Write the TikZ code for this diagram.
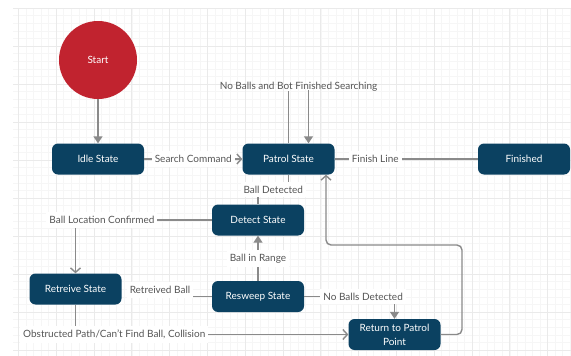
\documentclass[tikz,border=0pt]{standalone}
\usepackage{fontspec}
\setmainfont{Lato}
\usetikzlibrary{arrows.meta}
\definecolor{nodeblue}{HTML}{0B4161}
\definecolor{startred}{HTML}{C1232F}
\definecolor{conncol}{HTML}{8A8A8A}
\definecolor{lblcol}{HTML}{555555}
\definecolor{gridminor}{HTML}{F6F6F6}
\definecolor{gridmajor}{HTML}{EAEAEA}
\tikzset{
  statebox/.style={fill=nodeblue, rounded corners=6pt, minimum width=92pt, minimum height=31pt,
    text=white, font=\fontsize{10}{14}\selectfont, inner sep=0pt},
  conn/.style={draw=conncol, line width=1.4pt},
  lbl/.style={fill=white, text=lblcol, font=\fontsize{10}{11}\selectfont, inner xsep=3pt, inner ysep=4pt},
  freelbl/.style={text=lblcol, font=\fontsize{10}{11}\selectfont, inner sep=0pt},
  tri/.style={-{Triangle[length=7pt,width=9pt]}},
  barb/.style={-{Straight Barb[length=4.5pt,width=10pt]}}
}
\begin{document}
\begin{tikzpicture}[x=1pt,y=-1pt]
\useasboundingbox (0,0) rectangle (571,356);
\fill[white] (0,0) rectangle (571,356);
\begin{scope}
\clip (13,8) rectangle (571,356);
\foreach \i in {0,...,75} {\draw[gridminor, line width=0.6pt] ({10.84+7.56*\i},8) -- ({10.84+7.56*\i},356);}
\foreach \i in {0,...,47} {\draw[gridminor, line width=0.6pt] (13,{8+7.6*\i}) -- (571,{8+7.6*\i});}
\foreach \i in {0,...,15} {\draw[gridmajor, line width=0.7pt] ({18.4+37.8*\i},8) -- ({18.4+37.8*\i},356);}
\foreach \i in {0,...,9} {\draw[gridmajor, line width=0.7pt] (13,{8+38*\i}) -- (571,{8+38*\i});}
\end{scope}

\node[circle, fill=startred, minimum size=78pt, inner sep=0pt, text=white, font=\fontsize{10}{11}\selectfont] (start) at (98,60) {Start};
\node[statebox] (idle) at (98,159) {Idle State};
\node[statebox] (patrol) at (288.5,159) {Patrol State};
\node[statebox] (finished) at (524,159) {Finished};
\node[statebox] (detect) at (258,220) {Detect State};
\node[statebox] (resweep) at (258,296.5) {Resweep State};
\node[statebox] (retreive) at (75.5,289) {Retreive State};
\node[statebox, align=center] (ret) at (394.5,334.5) {Return to Patrol\\Point};

% Start -> Idle
\draw[conn, tri] (start) -- (idle);
% Idle -> Patrol
\draw[conn, barb] (idle) -- node[lbl]{Search Command} (patrol);
% self loop on Patrol
\coordinate (loopA) at (288.5,91);
\coordinate (loopB) at (308.5,90);
\draw[conn] (patrol.north) -- (loopA);
\draw[conn, tri] (loopB) -- (loopB |- patrol.north);
\node[freelbl] (looplbl) at (298.5,87) {No Balls and Bot Finished Searching};
% Patrol -> Finished
\draw[conn] (patrol) -- node[lbl, pos=0.283]{Finish Line} (finished);
% Patrol -> Detect
\draw[conn] (patrol.south) -- ++(0,15) -| node[lbl, pos=0.25]{Ball Detected} (detect.north);
% Detect -> Retreive
\draw[conn, barb] (detect.west) -| node[lbl, pos=0.403]{Ball Location Confirmed} (retreive.north);
% Resweep -> Detect
\draw[conn, tri] (resweep.north) -- node[lbl]{Ball in Range} (detect.south);
% Resweep -> Retreive
\coordinate (rbend) at (160,296.5);
\draw[conn] (resweep.west) -- (rbend);
\node[lbl] (rblbl) at (160,290) {Retreived Ball};
% Retreive -> Return
\draw[conn, barb] (retreive.south) |- node[lbl, pos=0.571]{Obstructed Path/Can't Find Ball, Collision} (ret.west);
% Resweep -> Return
\draw[conn, tri] (resweep.east) -| node[lbl, pos=0.326]{No Balls Detected} (ret.north);
% Return -> Patrol
\coordinate (rcA) at (462,245);
\draw[conn, barb, rounded corners=5pt] (ret.east) -| (rcA) -| ([xshift=37.5pt]patrol.south);
\end{tikzpicture}
\end{document}
